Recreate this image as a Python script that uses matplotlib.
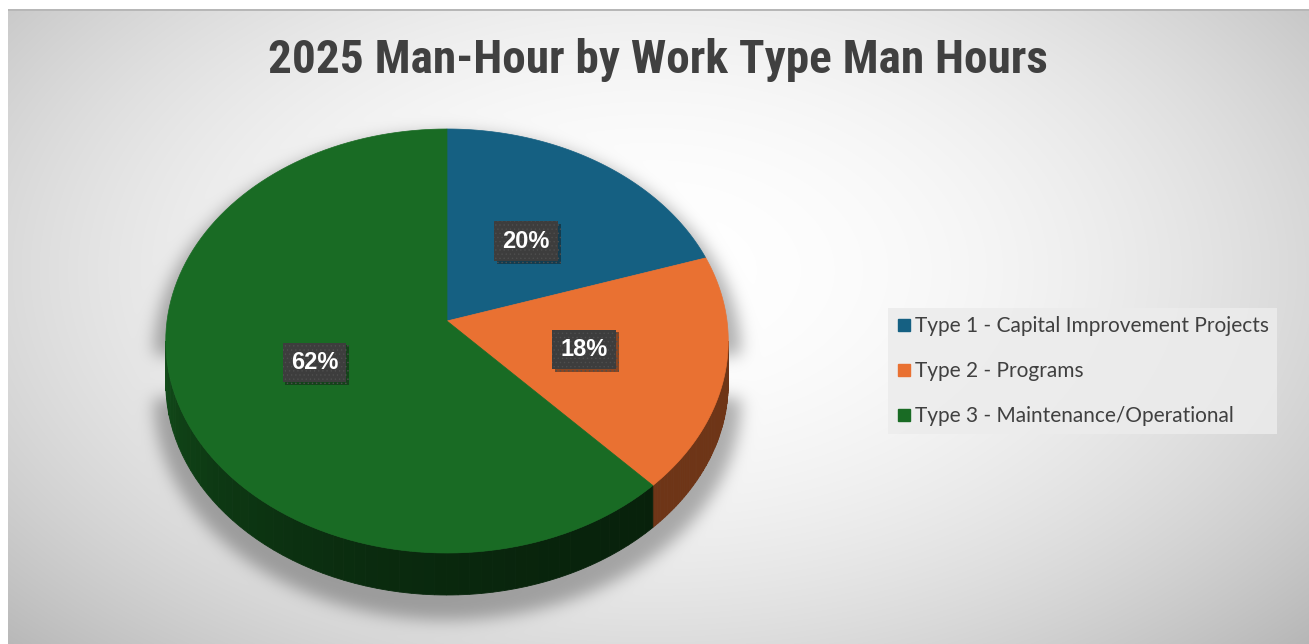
import numpy as np
import matplotlib.pyplot as plt
from matplotlib.patches import Polygon
from matplotlib.lines import Line2D
from matplotlib.path import Path
import matplotlib.patheffects as pe

title = '2025 Man-Hour by Work Type Man Hours'
categories = ['Type 1 - Capital Improvement Projects', 'Type 2 - Programs', 'Type 3 - Maintenance/Operational']
shares = [20, 18, 62]
colors = ['#156082', '#E97132', '#196B24']

W, H = 1309, 644
# pie placement in pixels (perspective top face)
CX, CY = 447, 321
RX = 280
TOP, BOT = 129, 553
DEPTH = 42
a1, a2 = CY - TOP, BOT - CY
C = (a2 - a1) / (a1 + a2)
A = -a1 * (1 + C)


def proj(theta, r=1.0, dz=0.0):
    X = r * np.sin(theta)
    Y = r * np.cos(theta)
    w = 1 + C * Y
    return CX + RX * X / w, CY + A * Y / w + dz


def shade(col, f):
    rgb = np.array(plt.matplotlib.colors.to_rgb(col))
    return tuple(rgb * f)


fig = plt.figure(figsize=(W / 100, H / 100), dpi=100)
ax = fig.add_axes([0, 0, 1, 1])
ax.set_xlim(0, W)
ax.set_ylim(H, 0)
ax.axis('off')

# background: radial gradient + soft shadow under the pie
yy, xx = np.mgrid[0:H, 0:W]
r2 = ((xx - 650) / 700.0) ** 2 + ((yy - 270) / 420.0) ** 2
bg = np.clip(1 - 0.17 * r2, 0, 1)

th_left = np.arccos(-C)
th_right = 2 * np.pi - th_left
far = np.linspace(th_right, th_left + 2 * np.pi, 200)
near = np.linspace(th_left, th_right, 200)
sx1, sy1 = proj(far)
sx2, sy2 = proj(near[::-1], dz=DEPTH)
sil = np.column_stack([np.r_[sx1, sx2], np.r_[sy1, sy2]])
sil = (sil - [CX, 360]) * 1.045 + [CX, 374]
mask = Path(sil).contains_points(np.column_stack([xx.ravel(), yy.ravel()])).reshape(H, W).astype(float)
s = 8
k = np.exp(-0.5 * (np.arange(-3 * s, 3 * s + 1) / s) ** 2)
k /= k.sum()
mask = np.apply_along_axis(lambda m: np.convolve(m, k, mode='same'), 0, mask)
mask = np.apply_along_axis(lambda m: np.convolve(m, k, mode='same'), 1, mask)
bg = bg * (1 - 0.3 * mask)
img = np.dstack([bg] * 3)
img[:9, :] = 1
img[:, :8] = 1
img[9:11, 8:] = 0.72
ax.imshow(img, extent=(0, W, H, 0), interpolation='bilinear', zorder=0)

# wedges
total = float(sum(shares))
edges = np.r_[0, np.cumsum(shares)] / total * 2 * np.pi

# side walls (only near half is visible)
for i, col in enumerate(colors):
    t0 = max(edges[i], th_left)
    t1 = min(edges[i + 1], th_right)
    if t1 <= t0:
        continue
    ts = np.linspace(t0, t1, 60)
    for j in range(len(ts) - 1):
        tt = np.linspace(ts[j], ts[j + 1], 3)
        x1, y1 = proj(tt)
        x2, y2 = proj(tt[::-1], dz=DEPTH)
        frac = (ts[j] - th_left) / (th_right - th_left)
        f = 0.3 + 0.42 * frac ** 2.5 if i == 2 else 0.47
        c = shade(col, f)
        ax.add_patch(Polygon(np.column_stack([np.r_[x1, x2], np.r_[y1, y2]]),
                             closed=True, fc=c, ec=c, lw=0.6, zorder=2))

for i, col in enumerate(colors):
    ts = np.linspace(edges[i], edges[i + 1], 120)
    x, y = proj(ts)
    pts = np.column_stack([np.r_[CX, x], np.r_[CY, y]])
    ax.add_patch(Polygon(pts, closed=True, fc=col, ec=col, lw=0.5, zorder=3))

# data labels
plt.rcParams['hatch.linewidth'] = 0.5
for i, v in enumerate(shares):
    mid = (edges[i] + edges[i + 1]) / 2
    lx, ly = proj(mid, r=0.5)
    t = ax.text(lx, ly + 2, '%d%%' % round(v / total * 100), ha='center', va='center',
                fontsize=17, weight='bold', color='white', family='Liberation Sans', zorder=5,
                bbox=dict(boxstyle='square,pad=0.35', fc='#3d3d3d', ec='#4e4e4e', lw=0, hatch='....'))
    t.get_bbox_patch().set_path_effects([pe.withSimplePatchShadow(offset=(2, -2), alpha=0.45), pe.Normal()])

# legend
handles = [Line2D([], [], marker='s', ls='none', color=c, markersize=8.5) for c in colors]
leg = ax.legend(handles, categories, loc='center left', bbox_to_anchor=(888, 371),
                bbox_transform=ax.transData, frameon=True, fancybox=False,
                facecolor='#ececec', edgecolor='none', framealpha=0.85,
                prop=dict(family='Lato', size=15), labelcolor='#404040',
                labelspacing=1.2, handlelength=0.7, handletextpad=0.2,
                borderpad=0.4, borderaxespad=0)
leg.set_zorder(6)

ax.text(658, 60, title, ha='center', va='center', fontsize=34, weight='bold',
        color='#404040', family=['Liberation Sans Narrow', 'Roboto Condensed', 'Liberation Sans'], zorder=6)

fig.savefig('out.png', dpi=100)
